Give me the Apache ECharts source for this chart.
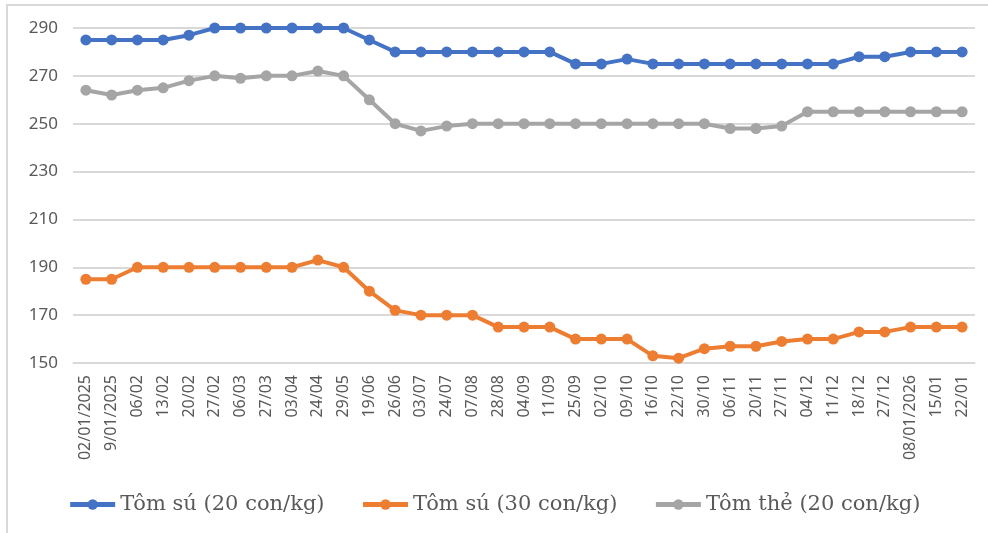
<!DOCTYPE html>
<html>
<head>
<meta charset="utf-8">
<title>Giá tôm</title>
<script src="https://cdn.jsdelivr.net/npm/echarts@6/dist/echarts.min.js"></script>
<style>
  html, body { margin: 0; padding: 0; background: #fff; }
  #chart { width: 988px; height: 533px; }
</style>
</head>
<body>
<div id="chart"></div>
<script>
// ngày lấy giá
var dates = ["02/01/2025", "9/01/2025", "06/02", "13/02", "20/02", "27/02", "06/03", "27/03", "03/04", "24/04",
  "29/05", "19/06", "26/06", "03/07", "24/07", "07/08", "28/08", "04/09", "11/09", "25/09",
  "02/10", "09/10", "16/10", "22/10", "30/10", "06/11", "20/11", "27/11", "04/12", "11/12",
  "18/12", "27/12", "08/01/2026", "15/01", "22/01"];

var suNames = ["Tôm sú (20 con/kg)", "Tôm sú (30 con/kg)", "Tôm thẻ (20 con/kg)"];

var su20 = [285, 285, 285, 285, 287, 290, 290, 290, 290, 290,
  290, 285, 280, 280, 280, 280, 280, 280, 280, 275,
  275, 277, 275, 275, 275, 275, 275, 275, 275, 275,
  278, 278, 280, 280, 280];

var su30 = [185, 185, 190, 190, 190, 190, 190, 190, 190, 193,
  190, 180, 172, 170, 170, 170, 165, 165, 165, 160,
  160, 160, 153, 152, 156, 157, 157, 159, 160, 160,
  163, 163, 165, 165, 165];

var the20 = [264, 262, 264, 265, 268, 270, 269, 270, 270, 272,
  270, 260, 250, 247, 249, 250, 250, 250, 250, 250,
  250, 250, 250, 250, 250, 248, 248, 249, 255, 255,
  255, 255, 255, 255, 255];

var colors = ["#4472C4", "#ED7D31", "#A5A5A5"];

function makeLine(name, data, color) {
  return {
    name: name,
    type: "line",
    data: data,
    symbol: "circle",
    symbolSize: 11,
    lineStyle: { width: 4, color: color },
    itemStyle: { color: color },
    animation: false
  };
}

var myChart = echarts.init(document.getElementById("chart"));
myChart.setOption({
  backgroundColor: "#fff",
  graphic: [{
    type: "rect",
    shape: { x: 7, y: 5, width: 995, height: 545 },
    style: { fill: null, stroke: "#d9d9d9", lineWidth: 2 },
    silent: true
  }],
  grid: { left: 73, right: 13, top: 28, bottom: 170 },
  legend: {
    bottom: 13,
    left: "center",
    itemWidth: 45,
    itemHeight: 13,
    itemGap: 36,
    lineStyle: { width: 5 },
    textStyle: { fontFamily: "DejaVu Serif", fontSize: 21, color: "#595959" },
    data: suNames
  },
  xAxis: {
    type: "category",
    data: dates,
    boundaryGap: true,
    axisLine: { lineStyle: { color: "#d9d9d9", width: 1 } },
    axisTick: { show: false },
    axisLabel: {
      rotate: 90,
      interval: 0,
      margin: 12,
      fontFamily: "Noto Sans",
      fontSize: 16,
      color: "#595959"
    }
  },
  yAxis: {
    type: "value",
    min: 150,
    max: 290,
    interval: 20,
    axisLine: { show: false },
    axisTick: { show: false },
    splitLine: { lineStyle: { color: "#d9d9d9", width: 2 } },
    axisLabel: { margin: 15, fontFamily: "Noto Sans", fontSize: 17, color: "#595959" }
  },
  series: [
    makeLine(suNames[0], su20, colors[0]),
    makeLine(suNames[1], su30, colors[1]),
    makeLine(suNames[2], the20, colors[2])
  ]
});
</script>
</body>
</html>
